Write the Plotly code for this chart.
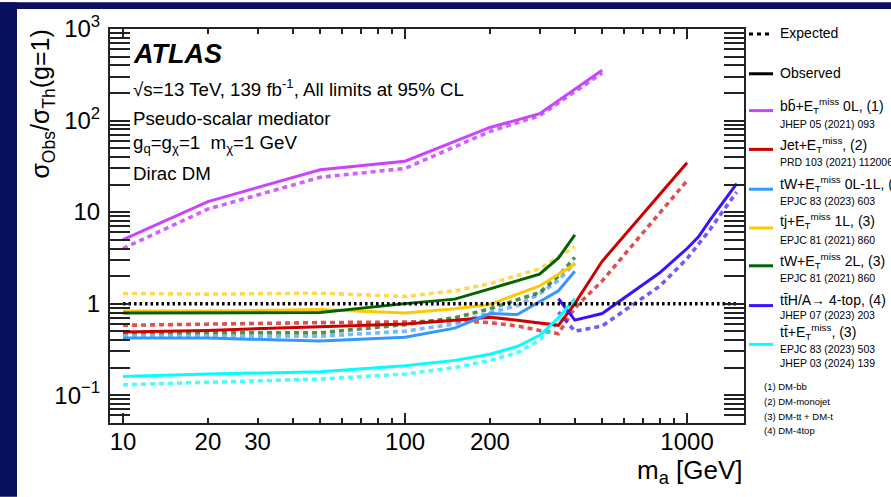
import plotly.graph_objects as go
import math

# ---------------- data ----------------
bb_mass = [10, 20, 50, 100, 200, 300, 500]
bb_obs = [5.0, 13.0, 29.0, 36.0, 84.0, 119.0, 354.0]
bb_exp = [4.0, 10.8, 24.0, 30.0, 76.0, 113.0, 330.0]

jet_mass = [10, 20, 50, 100, 150, 200, 250, 300, 350, 400, 500, 1000]
jet_obs = [0.49, 0.51, 0.56, 0.60, 0.66, 0.71, 0.66, 0.61, 0.58, 1.0, 2.9, 34.5]
jet_exp = [0.58, 0.60, 0.62, 0.63, 0.65, 0.62, 0.57, 0.51, 0.47, 0.9, 1.77, 22.0]

tw01_mass = [10, 20, 50, 100, 150, 200, 250, 300, 350, 400]
tw01_obs = [0.42, 0.42, 0.39, 0.43, 0.54, 0.78, 0.76, 1.05, 1.38, 2.26]
tw01_exp = [0.44, 0.44, 0.44, 0.50, 0.60, 0.80, 0.95, 1.28, 1.80, 2.78]

tj_mass = [10, 20, 50, 100, 150, 200, 300, 400]
tj_obs = [0.83, 0.83, 0.86, 0.79, 0.88, 0.98, 1.56, 2.7]
tj_exp = [1.29, 1.27, 1.30, 1.20, 1.38, 1.65, 2.4, 4.2]

tw2l_mass = [10, 20, 50, 100, 150, 200, 300, 350, 400]
tw2l_obs = [0.79, 0.79, 0.80, 1.0, 1.12, 1.45, 2.1, 3.15, 5.65]
tw2l_exp = [0.48, 0.48, 0.48, 0.59, 0.70, 0.88, 1.32, 2.0, 3.2]

tth_mass = [350, 400, 500, 800, 1000, 1100, 1200, 1300, 1400, 1500]
tth_obs = [1.13, 0.66, 0.78, 2.17, 4.0, 5.4, 8.0, 11.2, 15.5, 20.5]
tth_exp = [0.81, 0.50, 0.57, 1.55, 3.1, 4.5, 6.3, 9.0, 12.5, 16.5]

ttmet_mass = [10, 20, 50, 100, 150, 200, 250, 300, 350, 400]
ttmet_obs = [0.16, 0.17, 0.18, 0.21, 0.24, 0.28, 0.34, 0.45, 0.70, 1.13]
ttmet_exp = [0.13, 0.138, 0.15, 0.17, 0.20, 0.24, 0.29, 0.40, 0.62, 1.0]

unity_mass = [10, 1500]
unity_val = [1, 1]

x_tick_vals = [10, 20, 30, 100, 200, 1000]
x_tick_text = ["10", "20", "30", "100", "200", "1000"]
y_tick_vals = [0.1, 1, 10, 100, 1000]
y_tick_text = ["10<sup>\u22121</sup>", "1", "10", "10<sup>2</sup>", "10<sup>3</sup>"]

ETMISS = "E<sub>T</sub><sup>miss</sup>"
legend_labels = ["bb\u0304+" + ETMISS + " 0L, (1)", "Jet+" + ETMISS + ", (2)",
                 "tW+" + ETMISS + " 0L-1L, (3)", "tj+" + ETMISS + " 1L, (3)",
                 "tW+" + ETMISS + " 2L, (3)", "tt\u0304H/A\u2192 4-top, (4)",
                 "tt\u0304+" + ETMISS + ", (3)"]
legend_refs = ["JHEP 05 (2021) 093", "PRD 103 (2021) 112006", "EPJC 83 (2023) 603",
               "EPJC 81 (2021) 860", "EPJC 81 (2021) 860", "JHEP 07 (2023) 203",
               "EPJC 83 (2023) 503<br>JHEP 03 (2024) 139"]
notes = ["(1) DM-bb", "(2) DM-monojet", "(3) DM-tt + DM-t", "(4) DM-4top"]

# ---------------- styles ----------------
obs_colors = ["#c844ff", "#cc0000", "#3399ff", "#ffc800", "#006400", "#3a12ff", "#00ffff"]
exp_colors = ["rgba(200,68,255,0.85)", "rgba(204,0,0,0.68)", "rgba(51,153,255,0.68)",
              "rgba(255,200,0,0.7)", "rgba(0,100,0,0.7)", "rgba(58,18,255,0.7)",
              "rgba(0,255,255,0.72)"]
series = [
    (bb_mass, bb_obs, bb_exp),
    (jet_mass, jet_obs, jet_exp),
    (tw01_mass, tw01_obs, tw01_exp),
    (tj_mass, tj_obs, tj_exp),
    (tw2l_mass, tw2l_obs, tw2l_exp),
    (tth_mass, tth_obs, tth_exp),
    (ttmet_mass, ttmet_obs, ttmet_exp),
]

W, H = 891, 497
L, R, T, B = 110, 744, 27, 423
X_RANGE = [math.log10(8.99), math.log10(1592)]
Y_RANGE = [-1.304, 3.0]
FONT = "Liberation Sans, Arial, Helvetica, sans-serif"
DASH = "5px,4px"


def px(x):
    return (x - L) / (R - L)


def py(y):
    return (B - y) / (B - T)


fig = go.Figure()

fig.add_trace(go.Scatter(x=unity_mass, y=unity_val, mode="lines", xaxis="x2", yaxis="y",
                         line=dict(color="black", width=3.5, dash="2.5px,3px"),
                         hoverinfo="skip", showlegend=False))

for (m, o, e), c, ce in zip(series, obs_colors, exp_colors):
    fig.add_trace(go.Scatter(x=m, y=e, mode="lines",
                             line=dict(color=ce, width=3.6, dash=DASH),
                             hoverinfo="skip", showlegend=False))
for (m, o, e), c, ce in zip(series, obs_colors, exp_colors):
    fig.add_trace(go.Scatter(x=m, y=o, mode="lines",
                             line=dict(color=c, width=3),
                             hoverinfo="skip", showlegend=False))

x_minor = [v * d for d in (10, 100) for v in range(1, 10)]
x_minor = [v for v in x_minor if v not in x_tick_vals and v < 1592]
y_minor = [v * d for d in (0.01, 0.1, 1, 10, 100) for v in range(2, 10)]
y_minor = [v for v in y_minor if 0.0497 < v < 1000]

axis_col = "#222"
fig.update_layout(
    width=W, height=H,
    margin=dict(l=L, r=W - R, t=T, b=H - B, pad=0),
    paper_bgcolor="white", plot_bgcolor="white",
    showlegend=False,
    font=dict(family=FONT, color="black"),
    xaxis=dict(type="log", range=X_RANGE, tickmode="array", tickvals=x_tick_vals,
               ticktext=x_tick_text, ticks="inside", ticklen=5, tickwidth=1.5,
               tickcolor=axis_col, showline=True, linecolor=axis_col, linewidth=2,
               mirror="allticks", showgrid=False, zeroline=False,
               tickfont=dict(size=24, family=FONT), ticklabelstandoff=-4,
               minor=dict(tickmode="array", tickvals=x_minor, ticks="inside",
                          ticklen=5, tickwidth=1.5, tickcolor=axis_col, showgrid=False)),
    xaxis2=dict(type="log", range=X_RANGE, overlaying="x", anchor="y", side="bottom",
                tickmode="array", tickvals=[10, 100, 1000], ticks="inside", ticklen=10,
                tickwidth=1.5, tickcolor=axis_col, showticklabels=False, showline=True,
                linecolor=axis_col, linewidth=2, mirror="allticks", showgrid=False,
                zeroline=False),
    yaxis=dict(type="log", range=Y_RANGE, tickmode="array", tickvals=y_tick_vals,
               ticktext=y_tick_text, ticks="inside", ticklen=20, tickwidth=1.5,
               tickcolor=axis_col, showline=True, linecolor=axis_col, linewidth=2,
               mirror="allticks", showgrid=False, zeroline=False,
               tickfont=dict(size=24, family=FONT), ticklabelstandoff=3,
               minor=dict(tickmode="array", tickvals=y_minor, ticks="inside",
                          ticklen=10, tickwidth=1.5, tickcolor=axis_col, showgrid=False)),
)

shapes = []
navy = "#0a1060"
shapes.append(dict(type="rect", xref="paper", yref="paper", x0=px(0), x1=px(W),
                   y0=py(7), y1=py(0), fillcolor=navy, line=dict(width=0), layer="below"))
shapes.append(dict(type="rect", xref="paper", yref="paper", x0=px(0), x1=px(17),
                   y0=py(H), y1=py(0), fillcolor=navy, line=dict(width=0), layer="below"))

annotations = []


def text(xp, yp, s, size, xanchor="left", yanchor="middle", **kw):
    annotations.append(dict(x=px(xp), y=py(yp), xref="paper", yref="paper", text=s,
                            showarrow=False, xanchor=xanchor, yanchor=yanchor,
                            font=dict(size=size, family=FONT, color="black"), **kw))


# axis titles
text(42, 103, "\u03c3<sub>Obs</sub>/\u03c3<sub>Th</sub>(g=1)", 25, xanchor="center",
     yanchor="middle", textangle=-90)
text(745, 472, "m<sub>a</sub> [GeV]", 26, xanchor="right")

# ATLAS labels
text(131, 52, "<b><i>ATLAS</i></b>", 27)
text(131, 86, "\u221as=13 TeV, 139 fb<sup>-1</sup>, All limits at 95% CL", 18.7)
text(131, 117, "Pseudo-scalar mediator", 18.7)
text(131, 143, "g<sub>q</sub>=g<sub>\u03c7</sub>=1  m<sub>\u03c7</sub>=1 GeV", 18.7)
text(131, 172, "Dirac DM", 18.7)

# legend
LX0, LX1, TX = 749, 773, 778
shapes.append(dict(type="line", xref="paper", yref="paper", x0=px(LX0), x1=px(LX1),
                   y0=py(32), y1=py(32), line=dict(color="black", width=3, dash="4px,4px")))
shapes.append(dict(type="line", xref="paper", yref="paper", x0=px(LX0), x1=px(LX1),
                   y0=py(72), y1=py(72), line=dict(color="black", width=3)))
text(TX, 31, "Expected", 14)
text(TX, 71, "Observed", 14)

sample_y = [109, 148, 188, 227, 265, 305, 344]
label_y = [104, 144, 183, 220, 260, 299, 332]
ref_y = [122, 161, 200, 239, 277, 314, 356]
for i in range(7):
    shapes.append(dict(type="line", xref="paper", yref="paper", x0=px(LX0), x1=px(LX1),
                       y0=py(sample_y[i]), y1=py(sample_y[i]),
                       line=dict(color=obs_colors[i], width=3)))
    text(TX, label_y[i], legend_labels[i], 14)
    text(TX, ref_y[i], legend_refs[i], 10.5)

for i, n in enumerate(notes):
    text(762, 386 + 15 * i, n, 9.5)

fig.update_layout(shapes=shapes, annotations=annotations)
fig.write_html("out.html", config={"displayModeBar": False},
               post_script="document.body.style.margin='0px';document.body.style.overflow='hidden';")
